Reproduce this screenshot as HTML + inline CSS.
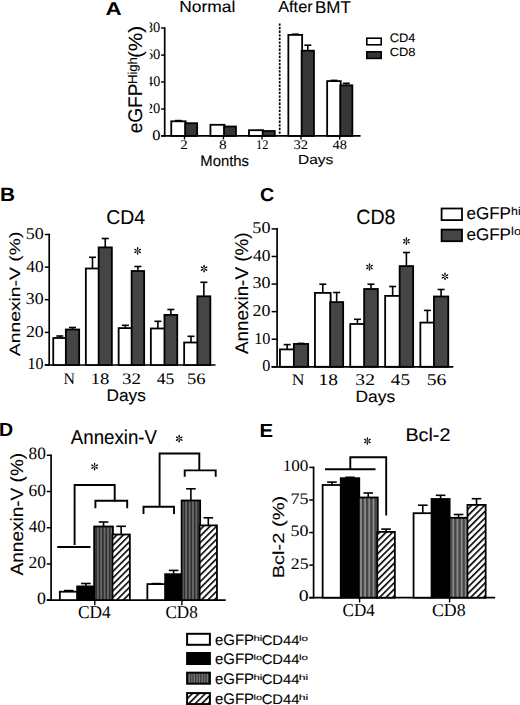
<!DOCTYPE html><html><head><meta charset="utf-8"><style>html,body{margin:0;padding:0;background:#fff;overflow:hidden;}svg{display:block;}text{text-rendering:geometricPrecision;fill:#000;} text.s{stroke:#000;stroke-width:0.1px;}</style></head><body>
<svg width="520" height="705" viewBox="0 0 520 705">
<defs>
<pattern id="hatch" patternUnits="userSpaceOnUse" width="4.6" height="4.6" patternTransform="rotate(45)"><rect width="4.6" height="4.6" fill="#fff"/><rect x="0" y="0" width="1.6" height="4.6" fill="#000"/></pattern>
<pattern id="stripe" patternUnits="userSpaceOnUse" width="3.4" height="10"><rect width="3.4" height="10" fill="#6e6e6e"/><rect x="0" y="0" width="1.8" height="10" fill="#303030"/></pattern>
<pattern id="stripeE" patternUnits="userSpaceOnUse" width="4.2" height="10" x="0.6"><rect width="4.2" height="10" fill="#8c8c8c"/><rect x="0" y="0" width="2.3" height="10" fill="#444"/></pattern>
<pattern id="stripeL" patternUnits="userSpaceOnUse" width="2.6" height="10"><rect width="2.6" height="10" fill="#7a7a7a"/><rect x="0" y="0" width="1.3" height="10" fill="#333"/></pattern>
</defs>
<rect width="520" height="705" fill="#fff"/>
<text x="105.44" y="15.00" font-family='"Liberation Sans", sans-serif' font-size="18.47" font-weight="bold" textLength="16.17" lengthAdjust="spacingAndGlyphs">A</text>
<text x="179.26" y="12.24" font-family='"Liberation Sans", sans-serif' font-size="15.92" class="s" textLength="56.12" lengthAdjust="spacingAndGlyphs">Normal</text>
<text x="278.26" y="12.34" font-family='"Liberation Sans", sans-serif' font-size="15.97" class="s" textLength="34.37" lengthAdjust="spacingAndGlyphs">After</text>
<text x="315.00" y="12.50" font-family='"Liberation Sans", sans-serif' font-size="17.02" class="s" textLength="35.80" lengthAdjust="spacingAndGlyphs">BMT</text>
<line x1="164.70" y1="27.20" x2="164.70" y2="136.70" stroke="#000" stroke-width="1.7" />
<line x1="161.20" y1="28.00" x2="164.70" y2="28.00" stroke="#000" stroke-width="1.5" />
<text x="145.86" y="32.05" font-family='"Liberation Serif", serif' font-size="14.52" textLength="14.49" lengthAdjust="spacingAndGlyphs">80</text>
<line x1="161.20" y1="55.10" x2="164.70" y2="55.10" stroke="#000" stroke-width="1.5" />
<text x="145.78" y="59.15" font-family='"Liberation Serif", serif' font-size="14.52" textLength="14.57" lengthAdjust="spacingAndGlyphs">60</text>
<line x1="161.20" y1="82.00" x2="164.70" y2="82.00" stroke="#000" stroke-width="1.5" />
<text x="146.12" y="86.05" font-family='"Liberation Serif", serif' font-size="14.52" textLength="14.22" lengthAdjust="spacingAndGlyphs">40</text>
<line x1="161.20" y1="109.00" x2="164.70" y2="109.00" stroke="#000" stroke-width="1.5" />
<text x="145.74" y="113.05" font-family='"Liberation Serif", serif' font-size="14.52" textLength="14.60" lengthAdjust="spacingAndGlyphs">20</text>
<line x1="161.20" y1="135.90" x2="164.70" y2="135.90" stroke="#000" stroke-width="1.5" />
<text x="152.18" y="139.95" font-family='"Liberation Serif", serif' font-size="14.52" textLength="8.24" lengthAdjust="spacingAndGlyphs">0</text>
<rect x="120" y="20" width="29.6" height="110" fill="#fff"/>
<text transform="translate(141.70,133.31) rotate(-90)" x="0" y="0" font-family='"Liberation Sans", sans-serif' font-size="19.79" class="s" textLength="49.70" lengthAdjust="spacingAndGlyphs">eGFP</text>
<text transform="translate(136.51,84.08) rotate(-90)" x="0" y="0" font-family='"Liberation Sans", sans-serif' font-size="12.98" class="s" textLength="26.96" lengthAdjust="spacingAndGlyphs">High</text>
<text transform="translate(141.92,58.10) rotate(-90)" x="0" y="0" font-family='"Liberation Sans", sans-serif' font-size="19.20" class="s" textLength="32.30" lengthAdjust="spacingAndGlyphs">(%)</text>
<line x1="161.20" y1="135.90" x2="360.60" y2="135.90" stroke="#000" stroke-width="1.7" />
<line x1="184.50" y1="135.90" x2="184.50" y2="139.40" stroke="#000" stroke-width="1.4" />
<text x="180.32" y="149.40" font-family='"Liberation Serif", serif' font-size="13.28" textLength="7.50" lengthAdjust="spacingAndGlyphs">2</text>
<line x1="223.40" y1="135.90" x2="223.40" y2="139.40" stroke="#000" stroke-width="1.4" />
<text x="219.13" y="149.27" font-family='"Liberation Serif", serif' font-size="13.04" textLength="7.65" lengthAdjust="spacingAndGlyphs">8</text>
<line x1="262.00" y1="135.90" x2="262.00" y2="139.40" stroke="#000" stroke-width="1.4" />
<text x="255.91" y="149.40" font-family='"Liberation Serif", serif' font-size="13.28" textLength="12.48" lengthAdjust="spacingAndGlyphs">12</text>
<line x1="301.00" y1="135.90" x2="301.00" y2="139.40" stroke="#000" stroke-width="1.4" />
<text x="293.51" y="149.27" font-family='"Liberation Serif", serif' font-size="13.09" textLength="14.60" lengthAdjust="spacingAndGlyphs">32</text>
<line x1="339.70" y1="135.90" x2="339.70" y2="139.40" stroke="#000" stroke-width="1.4" />
<text x="332.51" y="149.27" font-family='"Liberation Serif", serif' font-size="13.04" textLength="14.32" lengthAdjust="spacingAndGlyphs">48</text>
<text x="200.27" y="165.55" font-family='"Liberation Sans", sans-serif' font-size="15.10" class="s" textLength="48.74" lengthAdjust="spacingAndGlyphs">Months</text>
<text x="298.12" y="164.36" font-family='"Liberation Sans", sans-serif' font-size="13.18" class="s" textLength="35.23" lengthAdjust="spacingAndGlyphs">Days</text>
<line x1="279.70" y1="23.40" x2="279.70" y2="135.90" stroke="#000" stroke-width="1.7" stroke-dasharray="2.3 1.3"/>
<rect x="171.25" y="121.30" width="14.40" height="14.60" fill="#fff" stroke="#000" stroke-width="1.8"/>
<line x1="178.45" y1="120.90" x2="178.45" y2="120.60" stroke="#000" stroke-width="1.6" />
<line x1="174.95" y1="120.60" x2="181.95" y2="120.60" stroke="#000" stroke-width="1.6" />
<rect x="185.15" y="123.20" width="12.00" height="12.70" fill="#363636" stroke="#000" stroke-width="1.8"/>
<rect x="210.45" y="124.80" width="14.10" height="11.10" fill="#fff" stroke="#000" stroke-width="1.8"/>
<rect x="224.05" y="126.50" width="11.90" height="9.40" fill="#363636" stroke="#000" stroke-width="1.8"/>
<rect x="248.95" y="130.20" width="14.20" height="5.70" fill="#fff" stroke="#000" stroke-width="1.8"/>
<rect x="262.65" y="131.00" width="12.10" height="4.90" fill="#363636" stroke="#000" stroke-width="1.8"/>
<rect x="288.35" y="34.90" width="13.80" height="101.00" fill="#fff" stroke="#000" stroke-width="1.8"/>
<line x1="295.25" y1="34.50" x2="295.25" y2="34.20" stroke="#000" stroke-width="1.6" />
<line x1="291.75" y1="34.20" x2="298.75" y2="34.20" stroke="#000" stroke-width="1.6" />
<rect x="301.65" y="50.70" width="12.30" height="85.20" fill="#363636" stroke="#000" stroke-width="1.8"/>
<line x1="307.80" y1="50.30" x2="307.80" y2="45.20" stroke="#000" stroke-width="1.6" />
<line x1="304.30" y1="45.20" x2="311.30" y2="45.20" stroke="#000" stroke-width="1.6" />
<rect x="327.15" y="81.10" width="13.60" height="54.80" fill="#fff" stroke="#000" stroke-width="1.8"/>
<line x1="333.95" y1="80.70" x2="333.95" y2="80.40" stroke="#000" stroke-width="1.6" />
<line x1="330.45" y1="80.40" x2="337.45" y2="80.40" stroke="#000" stroke-width="1.6" />
<rect x="340.25" y="85.30" width="12.10" height="50.60" fill="#363636" stroke="#000" stroke-width="1.8"/>
<line x1="346.30" y1="84.90" x2="346.30" y2="83.30" stroke="#000" stroke-width="1.6" />
<line x1="342.80" y1="83.30" x2="349.80" y2="83.30" stroke="#000" stroke-width="1.6" />
<rect x="366.8" y="38.2" width="14.4" height="6.6" fill="#fff" stroke="#000" stroke-width="1.6"/>
<rect x="366.8" y="51.8" width="14.4" height="6.6" fill="#363636" stroke="#000" stroke-width="1.6"/>
<text x="389.66" y="42.38" font-family='"Liberation Sans", sans-serif' font-size="12.44" class="s" textLength="25.70" lengthAdjust="spacingAndGlyphs">CD4</text>
<text x="389.65" y="56.48" font-family='"Liberation Sans", sans-serif' font-size="11.87" class="s" textLength="25.90" lengthAdjust="spacingAndGlyphs">CD8</text>
<text x="0.09" y="200.80" font-family='"Liberation Sans", sans-serif' font-size="19.20" font-weight="bold" textLength="15.04" lengthAdjust="spacingAndGlyphs">B</text>
<text x="106.23" y="224.40" font-family='"Liberation Sans", sans-serif' font-size="19.93" class="s" textLength="38.92" lengthAdjust="spacingAndGlyphs">CD4</text>
<line x1="49.20" y1="233.70" x2="49.20" y2="365.80" stroke="#000" stroke-width="1.7" />
<line x1="44.80" y1="234.50" x2="49.20" y2="234.50" stroke="#000" stroke-width="1.5" />
<text x="25.66" y="238.93" font-family='"Liberation Serif", serif' font-size="16.59" textLength="18.01" lengthAdjust="spacingAndGlyphs">50</text>
<line x1="44.80" y1="267.10" x2="49.20" y2="267.10" stroke="#000" stroke-width="1.5" />
<text x="26.35" y="271.53" font-family='"Liberation Serif", serif' font-size="16.59" textLength="17.29" lengthAdjust="spacingAndGlyphs">40</text>
<line x1="44.80" y1="299.70" x2="49.20" y2="299.70" stroke="#000" stroke-width="1.5" />
<text x="25.85" y="304.13" font-family='"Liberation Serif", serif' font-size="16.59" textLength="17.81" lengthAdjust="spacingAndGlyphs">30</text>
<line x1="44.80" y1="332.40" x2="49.20" y2="332.40" stroke="#000" stroke-width="1.5" />
<text x="25.90" y="336.83" font-family='"Liberation Serif", serif' font-size="16.59" textLength="17.77" lengthAdjust="spacingAndGlyphs">20</text>
<line x1="44.80" y1="365.00" x2="49.20" y2="365.00" stroke="#000" stroke-width="1.5" />
<text x="27.60" y="369.43" font-family='"Liberation Serif", serif' font-size="16.59" textLength="16.00" lengthAdjust="spacingAndGlyphs">10</text>
<text transform="translate(20.48,356.25) rotate(-90)" x="0" y="0" font-family='"Liberation Sans", sans-serif' font-size="15.01" class="s" textLength="124.65" lengthAdjust="spacingAndGlyphs">Annexin-V (%)</text>
<line x1="44.80" y1="365.00" x2="215.50" y2="365.00" stroke="#000" stroke-width="1.7" />
<rect x="53.25" y="338.00" width="13.10" height="27.00" fill="#fff" stroke="#000" stroke-width="1.8"/>
<line x1="59.80" y1="337.60" x2="59.80" y2="336.00" stroke="#000" stroke-width="1.6" />
<line x1="56.30" y1="336.00" x2="63.30" y2="336.00" stroke="#000" stroke-width="1.6" />
<rect x="65.85" y="329.50" width="13.30" height="35.50" fill="#454545" stroke="#000" stroke-width="1.8"/>
<line x1="72.50" y1="329.10" x2="72.50" y2="327.50" stroke="#000" stroke-width="1.6" />
<line x1="69.00" y1="327.50" x2="76.00" y2="327.50" stroke="#000" stroke-width="1.6" />
<rect x="85.85" y="268.50" width="13.30" height="96.50" fill="#fff" stroke="#000" stroke-width="1.8"/>
<line x1="92.50" y1="268.10" x2="92.50" y2="257.30" stroke="#000" stroke-width="1.6" />
<line x1="89.00" y1="257.30" x2="96.00" y2="257.30" stroke="#000" stroke-width="1.6" />
<rect x="98.65" y="247.40" width="13.20" height="117.60" fill="#454545" stroke="#000" stroke-width="1.8"/>
<line x1="105.25" y1="247.00" x2="105.25" y2="238.50" stroke="#000" stroke-width="1.6" />
<line x1="101.75" y1="238.50" x2="108.75" y2="238.50" stroke="#000" stroke-width="1.6" />
<rect x="118.65" y="328.10" width="13.50" height="36.90" fill="#fff" stroke="#000" stroke-width="1.8"/>
<line x1="125.40" y1="327.70" x2="125.40" y2="325.30" stroke="#000" stroke-width="1.6" />
<line x1="121.90" y1="325.30" x2="128.90" y2="325.30" stroke="#000" stroke-width="1.6" />
<rect x="131.65" y="271.00" width="12.50" height="94.00" fill="#454545" stroke="#000" stroke-width="1.8"/>
<line x1="137.90" y1="270.60" x2="137.90" y2="266.50" stroke="#000" stroke-width="1.6" />
<line x1="134.40" y1="266.50" x2="141.40" y2="266.50" stroke="#000" stroke-width="1.6" />
<rect x="150.85" y="328.50" width="14.10" height="36.50" fill="#fff" stroke="#000" stroke-width="1.8"/>
<line x1="157.90" y1="328.10" x2="157.90" y2="321.30" stroke="#000" stroke-width="1.6" />
<line x1="154.40" y1="321.30" x2="161.40" y2="321.30" stroke="#000" stroke-width="1.6" />
<rect x="164.45" y="314.90" width="12.80" height="50.10" fill="#454545" stroke="#000" stroke-width="1.8"/>
<line x1="170.85" y1="314.50" x2="170.85" y2="309.50" stroke="#000" stroke-width="1.6" />
<line x1="167.35" y1="309.50" x2="174.35" y2="309.50" stroke="#000" stroke-width="1.6" />
<rect x="184.15" y="342.50" width="13.70" height="22.50" fill="#fff" stroke="#000" stroke-width="1.8"/>
<line x1="191.00" y1="342.10" x2="191.00" y2="336.30" stroke="#000" stroke-width="1.6" />
<line x1="187.50" y1="336.30" x2="194.50" y2="336.30" stroke="#000" stroke-width="1.6" />
<rect x="197.35" y="296.30" width="13.00" height="68.70" fill="#454545" stroke="#000" stroke-width="1.8"/>
<line x1="203.85" y1="295.90" x2="203.85" y2="282.30" stroke="#000" stroke-width="1.6" />
<line x1="200.35" y1="282.30" x2="207.35" y2="282.30" stroke="#000" stroke-width="1.6" />
<text x="63.53" y="383.80" font-family='"Liberation Serif", serif' font-size="16.18" textLength="11.43" lengthAdjust="spacingAndGlyphs">N</text>
<text x="90.67" y="384.04" font-family='"Liberation Serif", serif' font-size="16.00" textLength="18.63" lengthAdjust="spacingAndGlyphs">18</text>
<text x="122.10" y="384.04" font-family='"Liberation Serif", serif' font-size="16.06" textLength="18.94" lengthAdjust="spacingAndGlyphs">32</text>
<text x="156.65" y="384.04" font-family='"Liberation Serif", serif' font-size="16.18" textLength="17.66" lengthAdjust="spacingAndGlyphs">45</text>
<text x="186.93" y="384.04" font-family='"Liberation Serif", serif' font-size="16.06" textLength="18.63" lengthAdjust="spacingAndGlyphs">56</text>
<text x="106.48" y="401.20" font-family='"Liberation Sans", sans-serif' font-size="16.87" class="s" textLength="39.34" lengthAdjust="spacingAndGlyphs">Days</text>
<g fill="#000"><ellipse cx="137.60" cy="248.36" rx="1.31" ry="0.73" transform="rotate(-90,137.60,248.36)"/><line x1="137.60" y1="250.90" x2="137.60" y2="248.36" stroke="#000" stroke-width="0.46"/><ellipse cx="135.40" cy="249.63" rx="1.31" ry="0.73" transform="rotate(-150,135.40,249.63)"/><line x1="137.60" y1="250.90" x2="135.40" y2="249.63" stroke="#000" stroke-width="0.46"/><ellipse cx="135.40" cy="252.17" rx="1.31" ry="0.73" transform="rotate(-210,135.40,252.17)"/><line x1="137.60" y1="250.90" x2="135.40" y2="252.17" stroke="#000" stroke-width="0.46"/><ellipse cx="137.60" cy="253.44" rx="1.31" ry="0.73" transform="rotate(-270,137.60,253.44)"/><line x1="137.60" y1="250.90" x2="137.60" y2="253.44" stroke="#000" stroke-width="0.46"/><ellipse cx="139.80" cy="252.17" rx="1.31" ry="0.73" transform="rotate(-330,139.80,252.17)"/><line x1="137.60" y1="250.90" x2="139.80" y2="252.17" stroke="#000" stroke-width="0.46"/><ellipse cx="139.80" cy="249.63" rx="1.31" ry="0.73" transform="rotate(-390,139.80,249.63)"/><line x1="137.60" y1="250.90" x2="139.80" y2="249.63" stroke="#000" stroke-width="0.46"/></g>
<g fill="#000"><ellipse cx="204.10" cy="266.16" rx="1.31" ry="0.73" transform="rotate(-90,204.10,266.16)"/><line x1="204.10" y1="268.70" x2="204.10" y2="266.16" stroke="#000" stroke-width="0.46"/><ellipse cx="201.90" cy="267.43" rx="1.31" ry="0.73" transform="rotate(-150,201.90,267.43)"/><line x1="204.10" y1="268.70" x2="201.90" y2="267.43" stroke="#000" stroke-width="0.46"/><ellipse cx="201.90" cy="269.97" rx="1.31" ry="0.73" transform="rotate(-210,201.90,269.97)"/><line x1="204.10" y1="268.70" x2="201.90" y2="269.97" stroke="#000" stroke-width="0.46"/><ellipse cx="204.10" cy="271.24" rx="1.31" ry="0.73" transform="rotate(-270,204.10,271.24)"/><line x1="204.10" y1="268.70" x2="204.10" y2="271.24" stroke="#000" stroke-width="0.46"/><ellipse cx="206.30" cy="269.97" rx="1.31" ry="0.73" transform="rotate(-330,206.30,269.97)"/><line x1="204.10" y1="268.70" x2="206.30" y2="269.97" stroke="#000" stroke-width="0.46"/><ellipse cx="206.30" cy="267.43" rx="1.31" ry="0.73" transform="rotate(-390,206.30,267.43)"/><line x1="204.10" y1="268.70" x2="206.30" y2="267.43" stroke="#000" stroke-width="0.46"/></g>
<text x="260.11" y="200.81" font-family='"Liberation Sans", sans-serif' font-size="18.66" font-weight="bold" textLength="14.22" lengthAdjust="spacingAndGlyphs">C</text>
<text x="356.22" y="224.39" font-family='"Liberation Sans", sans-serif' font-size="20.64" class="s" textLength="39.22" lengthAdjust="spacingAndGlyphs">CD8</text>
<line x1="277.10" y1="228.10" x2="277.10" y2="367.60" stroke="#000" stroke-width="1.7" />
<line x1="271.60" y1="228.90" x2="277.10" y2="228.90" stroke="#000" stroke-width="1.5" />
<text x="252.36" y="233.33" font-family='"Liberation Serif", serif' font-size="16.59" textLength="18.12" lengthAdjust="spacingAndGlyphs">50</text>
<line x1="271.60" y1="256.48" x2="277.10" y2="256.48" stroke="#000" stroke-width="1.5" />
<text x="253.05" y="260.91" font-family='"Liberation Serif", serif' font-size="16.59" textLength="17.40" lengthAdjust="spacingAndGlyphs">40</text>
<line x1="271.60" y1="284.06" x2="277.10" y2="284.06" stroke="#000" stroke-width="1.5" />
<text x="252.55" y="288.49" font-family='"Liberation Serif", serif' font-size="16.59" textLength="17.92" lengthAdjust="spacingAndGlyphs">30</text>
<line x1="271.60" y1="311.64" x2="277.10" y2="311.64" stroke="#000" stroke-width="1.5" />
<text x="252.60" y="316.07" font-family='"Liberation Serif", serif' font-size="16.59" textLength="17.87" lengthAdjust="spacingAndGlyphs">20</text>
<line x1="271.60" y1="339.22" x2="277.10" y2="339.22" stroke="#000" stroke-width="1.5" />
<text x="254.18" y="343.65" font-family='"Liberation Serif", serif' font-size="16.59" textLength="16.23" lengthAdjust="spacingAndGlyphs">10</text>
<line x1="271.60" y1="366.80" x2="277.10" y2="366.80" stroke="#000" stroke-width="1.5" />
<text x="262.29" y="371.23" font-family='"Liberation Serif", serif' font-size="16.59" textLength="8.12" lengthAdjust="spacingAndGlyphs">0</text>
<text transform="translate(248.49,354.05) rotate(-90)" x="0" y="0" font-family='"Liberation Sans", sans-serif' font-size="18.34" class="s" textLength="121.62" lengthAdjust="spacingAndGlyphs">Annexin-V (%)</text>
<line x1="271.60" y1="366.80" x2="453.30" y2="366.80" stroke="#000" stroke-width="1.7" />
<rect x="279.95" y="349.40" width="14.40" height="17.40" fill="#fff" stroke="#000" stroke-width="1.8"/>
<line x1="287.15" y1="349.00" x2="287.15" y2="344.60" stroke="#000" stroke-width="1.6" />
<line x1="283.65" y1="344.60" x2="290.65" y2="344.60" stroke="#000" stroke-width="1.6" />
<rect x="293.85" y="343.90" width="14.30" height="22.90" fill="#454545" stroke="#000" stroke-width="1.8"/>
<line x1="301.00" y1="343.50" x2="301.00" y2="343.40" stroke="#000" stroke-width="1.6" />
<line x1="297.50" y1="343.40" x2="304.50" y2="343.40" stroke="#000" stroke-width="1.6" />
<rect x="314.95" y="292.90" width="15.70" height="73.90" fill="#fff" stroke="#000" stroke-width="1.8"/>
<line x1="322.80" y1="292.50" x2="322.80" y2="284.20" stroke="#000" stroke-width="1.6" />
<line x1="319.30" y1="284.20" x2="326.30" y2="284.20" stroke="#000" stroke-width="1.6" />
<rect x="330.15" y="302.10" width="13.00" height="64.70" fill="#454545" stroke="#000" stroke-width="1.8"/>
<line x1="336.65" y1="301.70" x2="336.65" y2="292.50" stroke="#000" stroke-width="1.6" />
<line x1="333.15" y1="292.50" x2="340.15" y2="292.50" stroke="#000" stroke-width="1.6" />
<rect x="350.25" y="324.00" width="14.40" height="42.80" fill="#fff" stroke="#000" stroke-width="1.8"/>
<line x1="357.45" y1="323.60" x2="357.45" y2="319.30" stroke="#000" stroke-width="1.6" />
<line x1="353.95" y1="319.30" x2="360.95" y2="319.30" stroke="#000" stroke-width="1.6" />
<rect x="364.15" y="289.00" width="13.70" height="77.80" fill="#454545" stroke="#000" stroke-width="1.8"/>
<line x1="371.00" y1="288.60" x2="371.00" y2="284.20" stroke="#000" stroke-width="1.6" />
<line x1="367.50" y1="284.20" x2="374.50" y2="284.20" stroke="#000" stroke-width="1.6" />
<rect x="385.15" y="295.90" width="15.00" height="70.90" fill="#fff" stroke="#000" stroke-width="1.8"/>
<line x1="392.65" y1="295.50" x2="392.65" y2="286.50" stroke="#000" stroke-width="1.6" />
<line x1="389.15" y1="286.50" x2="396.15" y2="286.50" stroke="#000" stroke-width="1.6" />
<rect x="399.65" y="266.10" width="13.50" height="100.70" fill="#454545" stroke="#000" stroke-width="1.8"/>
<line x1="406.40" y1="265.70" x2="406.40" y2="252.50" stroke="#000" stroke-width="1.6" />
<line x1="402.90" y1="252.50" x2="409.90" y2="252.50" stroke="#000" stroke-width="1.6" />
<rect x="420.35" y="322.60" width="14.10" height="44.20" fill="#fff" stroke="#000" stroke-width="1.8"/>
<line x1="427.40" y1="322.20" x2="427.40" y2="310.40" stroke="#000" stroke-width="1.6" />
<line x1="423.90" y1="310.40" x2="430.90" y2="310.40" stroke="#000" stroke-width="1.6" />
<rect x="433.95" y="296.50" width="14.30" height="70.30" fill="#454545" stroke="#000" stroke-width="1.8"/>
<line x1="441.10" y1="296.10" x2="441.10" y2="289.50" stroke="#000" stroke-width="1.6" />
<line x1="437.60" y1="289.50" x2="444.60" y2="289.50" stroke="#000" stroke-width="1.6" />
<text x="291.67" y="385.00" font-family='"Liberation Serif", serif' font-size="16.03" textLength="12.72" lengthAdjust="spacingAndGlyphs">N</text>
<text x="318.60" y="385.34" font-family='"Liberation Serif", serif' font-size="16.30" textLength="19.43" lengthAdjust="spacingAndGlyphs">18</text>
<text x="355.37" y="385.34" font-family='"Liberation Serif", serif' font-size="16.36" textLength="19.61" lengthAdjust="spacingAndGlyphs">32</text>
<text x="390.82" y="385.34" font-family='"Liberation Serif", serif' font-size="16.48" textLength="19.15" lengthAdjust="spacingAndGlyphs">45</text>
<text x="426.67" y="385.34" font-family='"Liberation Serif", serif' font-size="16.36" textLength="19.73" lengthAdjust="spacingAndGlyphs">56</text>
<text x="355.46" y="402.12" font-family='"Liberation Sans", sans-serif' font-size="16.31" class="s" textLength="39.66" lengthAdjust="spacingAndGlyphs">Days</text>
<g fill="#000"><ellipse cx="369.50" cy="264.46" rx="1.31" ry="0.73" transform="rotate(-90,369.50,264.46)"/><line x1="369.50" y1="267.00" x2="369.50" y2="264.46" stroke="#000" stroke-width="0.46"/><ellipse cx="367.30" cy="265.73" rx="1.31" ry="0.73" transform="rotate(-150,367.30,265.73)"/><line x1="369.50" y1="267.00" x2="367.30" y2="265.73" stroke="#000" stroke-width="0.46"/><ellipse cx="367.30" cy="268.27" rx="1.31" ry="0.73" transform="rotate(-210,367.30,268.27)"/><line x1="369.50" y1="267.00" x2="367.30" y2="268.27" stroke="#000" stroke-width="0.46"/><ellipse cx="369.50" cy="269.54" rx="1.31" ry="0.73" transform="rotate(-270,369.50,269.54)"/><line x1="369.50" y1="267.00" x2="369.50" y2="269.54" stroke="#000" stroke-width="0.46"/><ellipse cx="371.70" cy="268.27" rx="1.31" ry="0.73" transform="rotate(-330,371.70,268.27)"/><line x1="369.50" y1="267.00" x2="371.70" y2="268.27" stroke="#000" stroke-width="0.46"/><ellipse cx="371.70" cy="265.73" rx="1.31" ry="0.73" transform="rotate(-390,371.70,265.73)"/><line x1="369.50" y1="267.00" x2="371.70" y2="265.73" stroke="#000" stroke-width="0.46"/></g>
<g fill="#000"><ellipse cx="406.40" cy="238.66" rx="1.31" ry="0.73" transform="rotate(-90,406.40,238.66)"/><line x1="406.40" y1="241.20" x2="406.40" y2="238.66" stroke="#000" stroke-width="0.46"/><ellipse cx="404.20" cy="239.93" rx="1.31" ry="0.73" transform="rotate(-150,404.20,239.93)"/><line x1="406.40" y1="241.20" x2="404.20" y2="239.93" stroke="#000" stroke-width="0.46"/><ellipse cx="404.20" cy="242.47" rx="1.31" ry="0.73" transform="rotate(-210,404.20,242.47)"/><line x1="406.40" y1="241.20" x2="404.20" y2="242.47" stroke="#000" stroke-width="0.46"/><ellipse cx="406.40" cy="243.74" rx="1.31" ry="0.73" transform="rotate(-270,406.40,243.74)"/><line x1="406.40" y1="241.20" x2="406.40" y2="243.74" stroke="#000" stroke-width="0.46"/><ellipse cx="408.60" cy="242.47" rx="1.31" ry="0.73" transform="rotate(-330,408.60,242.47)"/><line x1="406.40" y1="241.20" x2="408.60" y2="242.47" stroke="#000" stroke-width="0.46"/><ellipse cx="408.60" cy="239.93" rx="1.31" ry="0.73" transform="rotate(-390,408.60,239.93)"/><line x1="406.40" y1="241.20" x2="408.60" y2="239.93" stroke="#000" stroke-width="0.46"/></g>
<g fill="#000"><ellipse cx="445.00" cy="273.86" rx="1.31" ry="0.73" transform="rotate(-90,445.00,273.86)"/><line x1="445.00" y1="276.40" x2="445.00" y2="273.86" stroke="#000" stroke-width="0.46"/><ellipse cx="442.80" cy="275.13" rx="1.31" ry="0.73" transform="rotate(-150,442.80,275.13)"/><line x1="445.00" y1="276.40" x2="442.80" y2="275.13" stroke="#000" stroke-width="0.46"/><ellipse cx="442.80" cy="277.67" rx="1.31" ry="0.73" transform="rotate(-210,442.80,277.67)"/><line x1="445.00" y1="276.40" x2="442.80" y2="277.67" stroke="#000" stroke-width="0.46"/><ellipse cx="445.00" cy="278.94" rx="1.31" ry="0.73" transform="rotate(-270,445.00,278.94)"/><line x1="445.00" y1="276.40" x2="445.00" y2="278.94" stroke="#000" stroke-width="0.46"/><ellipse cx="447.20" cy="277.67" rx="1.31" ry="0.73" transform="rotate(-330,447.20,277.67)"/><line x1="445.00" y1="276.40" x2="447.20" y2="277.67" stroke="#000" stroke-width="0.46"/><ellipse cx="447.20" cy="275.13" rx="1.31" ry="0.73" transform="rotate(-390,447.20,275.13)"/><line x1="445.00" y1="276.40" x2="447.20" y2="275.13" stroke="#000" stroke-width="0.46"/></g>
<rect x="441.6" y="208.5" width="20.4" height="11.6" fill="#fff" stroke="#000" stroke-width="1.8"/>
<rect x="441.6" y="229.6" width="20.4" height="11.6" fill="#454545" stroke="#000" stroke-width="1.8"/>
<text x="466.48" y="219.33" font-family='"Liberation Sans", sans-serif' font-size="17.10" class="s" textLength="44.51" lengthAdjust="spacingAndGlyphs">eGFP</text>
<text x="466.48" y="239.83" font-family='"Liberation Sans", sans-serif' font-size="16.68" class="s" textLength="44.51" lengthAdjust="spacingAndGlyphs">eGFP</text>
<text x="511.14" y="214.70" font-family='"Liberation Sans", sans-serif' font-size="11.45" class="s" textLength="9.61" lengthAdjust="spacingAndGlyphs">hi</text>
<text x="511.14" y="234.69" font-family='"Liberation Sans", sans-serif' font-size="11.29" class="s" textLength="9.87" lengthAdjust="spacingAndGlyphs">lo</text>
<text x="-1.02" y="435.80" font-family='"Liberation Sans", sans-serif' font-size="19.05" font-weight="bold" textLength="14.15" lengthAdjust="spacingAndGlyphs">D</text>
<text x="70.75" y="444.00" font-family='"Liberation Sans", sans-serif' font-size="20.14" class="s" textLength="86.32" lengthAdjust="spacingAndGlyphs">Annexin-V</text>
<line x1="51.10" y1="454.50" x2="51.10" y2="600.98" stroke="#000" stroke-width="1.7" />
<line x1="46.80" y1="455.30" x2="51.10" y2="455.30" stroke="#000" stroke-width="1.5" />
<text x="28.55" y="459.43" font-family='"Liberation Serif", serif' font-size="17.19" textLength="17.30" lengthAdjust="spacingAndGlyphs">80</text>
<line x1="46.80" y1="491.52" x2="51.10" y2="491.52" stroke="#000" stroke-width="1.5" />
<text x="28.46" y="495.65" font-family='"Liberation Serif", serif' font-size="17.19" textLength="17.39" lengthAdjust="spacingAndGlyphs">60</text>
<line x1="46.80" y1="527.74" x2="51.10" y2="527.74" stroke="#000" stroke-width="1.5" />
<text x="28.86" y="531.87" font-family='"Liberation Serif", serif' font-size="17.19" textLength="16.98" lengthAdjust="spacingAndGlyphs">40</text>
<line x1="46.80" y1="563.96" x2="51.10" y2="563.96" stroke="#000" stroke-width="1.5" />
<text x="28.42" y="568.09" font-family='"Liberation Serif", serif' font-size="17.19" textLength="17.44" lengthAdjust="spacingAndGlyphs">20</text>
<line x1="46.80" y1="600.18" x2="51.10" y2="600.18" stroke="#000" stroke-width="1.5" />
<text x="36.93" y="604.31" font-family='"Liberation Serif", serif' font-size="17.19" textLength="8.94" lengthAdjust="spacingAndGlyphs">0</text>
<text transform="translate(23.11,575.45) rotate(-90)" x="0" y="0" font-family='"Liberation Sans", sans-serif' font-size="17.80" class="s" textLength="122.63" lengthAdjust="spacingAndGlyphs">Annexin-V (%)</text>
<line x1="46.80" y1="600.10" x2="225.70" y2="600.10" stroke="#000" stroke-width="1.7" />
<rect x="59.85" y="591.70" width="17.80" height="8.40" fill="#fff" stroke="#000" stroke-width="1.8"/>
<line x1="68.75" y1="591.30" x2="68.75" y2="590.60" stroke="#000" stroke-width="1.6" />
<line x1="63.95" y1="590.60" x2="73.55" y2="590.60" stroke="#000" stroke-width="1.6" />
<rect x="77.15" y="586.40" width="17.50" height="13.70" fill="#000" stroke="#000" stroke-width="1.8"/>
<line x1="85.90" y1="586.00" x2="85.90" y2="583.50" stroke="#000" stroke-width="1.6" />
<line x1="81.10" y1="583.50" x2="90.70" y2="583.50" stroke="#000" stroke-width="1.6" />
<rect x="94.15" y="526.50" width="18.80" height="73.60" fill="url(#stripe)" stroke="#000" stroke-width="1.8"/>
<line x1="103.55" y1="526.10" x2="103.55" y2="522.00" stroke="#000" stroke-width="1.6" />
<line x1="98.75" y1="522.00" x2="108.35" y2="522.00" stroke="#000" stroke-width="1.6" />
<rect x="112.45" y="534.50" width="17.40" height="65.60" fill="url(#hatch)" stroke="#000" stroke-width="1.8"/>
<line x1="121.15" y1="534.10" x2="121.15" y2="526.30" stroke="#000" stroke-width="1.6" />
<line x1="116.35" y1="526.30" x2="125.95" y2="526.30" stroke="#000" stroke-width="1.6" />
<rect x="147.35" y="584.10" width="18.30" height="16.00" fill="#fff" stroke="#000" stroke-width="1.8"/>
<line x1="156.50" y1="583.70" x2="156.50" y2="583.60" stroke="#000" stroke-width="1.6" />
<line x1="151.70" y1="583.60" x2="161.30" y2="583.60" stroke="#000" stroke-width="1.6" />
<rect x="165.15" y="574.20" width="17.00" height="25.90" fill="#000" stroke="#000" stroke-width="1.8"/>
<line x1="173.65" y1="573.80" x2="173.65" y2="570.40" stroke="#000" stroke-width="1.6" />
<line x1="168.85" y1="570.40" x2="178.45" y2="570.40" stroke="#000" stroke-width="1.6" />
<rect x="181.65" y="500.50" width="18.50" height="99.60" fill="url(#stripe)" stroke="#000" stroke-width="1.8"/>
<line x1="190.90" y1="500.10" x2="190.90" y2="488.80" stroke="#000" stroke-width="1.6" />
<line x1="186.10" y1="488.80" x2="195.70" y2="488.80" stroke="#000" stroke-width="1.6" />
<rect x="199.65" y="525.40" width="17.30" height="74.70" fill="url(#hatch)" stroke="#000" stroke-width="1.8"/>
<line x1="208.30" y1="525.00" x2="208.30" y2="517.80" stroke="#000" stroke-width="1.6" />
<line x1="203.50" y1="517.80" x2="213.10" y2="517.80" stroke="#000" stroke-width="1.6" />
<line x1="94.80" y1="600.10" x2="94.80" y2="605.20" stroke="#000" stroke-width="1.4" />
<line x1="181.90" y1="600.10" x2="181.90" y2="605.20" stroke="#000" stroke-width="1.4" />
<text x="77.91" y="617.72" font-family='"Liberation Serif", serif' font-size="17.99" textLength="32.74" lengthAdjust="spacingAndGlyphs">CD4</text>
<text x="165.42" y="617.72" font-family='"Liberation Serif", serif' font-size="17.93" textLength="32.31" lengthAdjust="spacingAndGlyphs">CD8</text>
<line x1="57.20" y1="547.00" x2="90.50" y2="547.00" stroke="#000" stroke-width="1.9" />
<polyline points="74.6,544 74.6,485 114.7,485 114.7,500.7" fill="none" stroke="#000" stroke-width="1.9" stroke-linejoin="miter" stroke-linecap="square"/>
<polyline points="95.4,507.4 95.4,500.7 127.2,500.7 127.2,507.4" fill="none" stroke="#000" stroke-width="1.9" stroke-linejoin="miter" stroke-linecap="square"/>
<g fill="#000"><ellipse cx="94.60" cy="464.06" rx="1.31" ry="0.73" transform="rotate(-90,94.60,464.06)"/><line x1="94.60" y1="466.60" x2="94.60" y2="464.06" stroke="#000" stroke-width="0.46"/><ellipse cx="92.40" cy="465.33" rx="1.31" ry="0.73" transform="rotate(-150,92.40,465.33)"/><line x1="94.60" y1="466.60" x2="92.40" y2="465.33" stroke="#000" stroke-width="0.46"/><ellipse cx="92.40" cy="467.87" rx="1.31" ry="0.73" transform="rotate(-210,92.40,467.87)"/><line x1="94.60" y1="466.60" x2="92.40" y2="467.87" stroke="#000" stroke-width="0.46"/><ellipse cx="94.60" cy="469.14" rx="1.31" ry="0.73" transform="rotate(-270,94.60,469.14)"/><line x1="94.60" y1="466.60" x2="94.60" y2="469.14" stroke="#000" stroke-width="0.46"/><ellipse cx="96.80" cy="467.87" rx="1.31" ry="0.73" transform="rotate(-330,96.80,467.87)"/><line x1="94.60" y1="466.60" x2="96.80" y2="467.87" stroke="#000" stroke-width="0.46"/><ellipse cx="96.80" cy="465.33" rx="1.31" ry="0.73" transform="rotate(-390,96.80,465.33)"/><line x1="94.60" y1="466.60" x2="96.80" y2="465.33" stroke="#000" stroke-width="0.46"/></g>
<polyline points="143.5,513 143.5,506.8 174,506.8 174,513" fill="none" stroke="#000" stroke-width="1.9" stroke-linejoin="miter" stroke-linecap="square"/>
<polyline points="159.6,506 159.6,453.5 199.3,453.5 199.3,469.9" fill="none" stroke="#000" stroke-width="1.9" stroke-linejoin="miter" stroke-linecap="square"/>
<polyline points="184.7,475.8 184.7,470.4 215.7,470.4 215.7,475.8" fill="none" stroke="#000" stroke-width="1.9" stroke-linejoin="miter" stroke-linecap="square"/>
<g fill="#000"><ellipse cx="179.20" cy="436.16" rx="1.31" ry="0.73" transform="rotate(-90,179.20,436.16)"/><line x1="179.20" y1="438.70" x2="179.20" y2="436.16" stroke="#000" stroke-width="0.46"/><ellipse cx="177.00" cy="437.43" rx="1.31" ry="0.73" transform="rotate(-150,177.00,437.43)"/><line x1="179.20" y1="438.70" x2="177.00" y2="437.43" stroke="#000" stroke-width="0.46"/><ellipse cx="177.00" cy="439.97" rx="1.31" ry="0.73" transform="rotate(-210,177.00,439.97)"/><line x1="179.20" y1="438.70" x2="177.00" y2="439.97" stroke="#000" stroke-width="0.46"/><ellipse cx="179.20" cy="441.24" rx="1.31" ry="0.73" transform="rotate(-270,179.20,441.24)"/><line x1="179.20" y1="438.70" x2="179.20" y2="441.24" stroke="#000" stroke-width="0.46"/><ellipse cx="181.40" cy="439.97" rx="1.31" ry="0.73" transform="rotate(-330,181.40,439.97)"/><line x1="179.20" y1="438.70" x2="181.40" y2="439.97" stroke="#000" stroke-width="0.46"/><ellipse cx="181.40" cy="437.43" rx="1.31" ry="0.73" transform="rotate(-390,181.40,437.43)"/><line x1="179.20" y1="438.70" x2="181.40" y2="437.43" stroke="#000" stroke-width="0.46"/></g>
<text x="259.43" y="436.50" font-family='"Liberation Sans", sans-serif' font-size="18.91" font-weight="bold" textLength="13.58" lengthAdjust="spacingAndGlyphs">E</text>
<text x="405.47" y="441.02" font-family='"Liberation Sans", sans-serif' font-size="18.37" class="s" textLength="44.93" lengthAdjust="spacingAndGlyphs">Bcl-2</text>
<g fill="#000"><ellipse cx="367.40" cy="438.46" rx="1.31" ry="0.73" transform="rotate(-90,367.40,438.46)"/><line x1="367.40" y1="441.00" x2="367.40" y2="438.46" stroke="#000" stroke-width="0.46"/><ellipse cx="365.20" cy="439.73" rx="1.31" ry="0.73" transform="rotate(-150,365.20,439.73)"/><line x1="367.40" y1="441.00" x2="365.20" y2="439.73" stroke="#000" stroke-width="0.46"/><ellipse cx="365.20" cy="442.27" rx="1.31" ry="0.73" transform="rotate(-210,365.20,442.27)"/><line x1="367.40" y1="441.00" x2="365.20" y2="442.27" stroke="#000" stroke-width="0.46"/><ellipse cx="367.40" cy="443.54" rx="1.31" ry="0.73" transform="rotate(-270,367.40,443.54)"/><line x1="367.40" y1="441.00" x2="367.40" y2="443.54" stroke="#000" stroke-width="0.46"/><ellipse cx="369.60" cy="442.27" rx="1.31" ry="0.73" transform="rotate(-330,369.60,442.27)"/><line x1="367.40" y1="441.00" x2="369.60" y2="442.27" stroke="#000" stroke-width="0.46"/><ellipse cx="369.60" cy="439.73" rx="1.31" ry="0.73" transform="rotate(-390,369.60,439.73)"/><line x1="367.40" y1="441.00" x2="369.60" y2="439.73" stroke="#000" stroke-width="0.46"/></g>
<line x1="313.60" y1="466.60" x2="313.60" y2="598.52" stroke="#000" stroke-width="1.7" />
<line x1="309.30" y1="467.40" x2="313.60" y2="467.40" stroke="#000" stroke-width="1.5" />
<text x="282.70" y="471.04" font-family='"Liberation Serif", serif' font-size="16.00" textLength="25.75" lengthAdjust="spacingAndGlyphs">100</text>
<line x1="309.30" y1="499.98" x2="313.60" y2="499.98" stroke="#000" stroke-width="1.5" />
<text x="290.42" y="503.62" font-family='"Liberation Serif", serif' font-size="16.24" textLength="18.10" lengthAdjust="spacingAndGlyphs">75</text>
<line x1="309.30" y1="532.56" x2="313.60" y2="532.56" stroke="#000" stroke-width="1.5" />
<text x="290.57" y="536.20" font-family='"Liberation Serif", serif' font-size="16.00" textLength="17.90" lengthAdjust="spacingAndGlyphs">50</text>
<line x1="309.30" y1="565.14" x2="313.60" y2="565.14" stroke="#000" stroke-width="1.5" />
<text x="290.80" y="568.78" font-family='"Liberation Serif", serif' font-size="16.06" textLength="17.70" lengthAdjust="spacingAndGlyphs">25</text>
<line x1="309.30" y1="597.72" x2="313.60" y2="597.72" stroke="#000" stroke-width="1.5" />
<text x="298.66" y="601.36" font-family='"Liberation Serif", serif' font-size="16.00" textLength="9.88" lengthAdjust="spacingAndGlyphs">0</text>
<text transform="translate(283.66,578.36) rotate(-90)" x="0" y="0" font-family='"Liberation Sans", sans-serif' font-size="16.09" class="s" textLength="82.64" lengthAdjust="spacingAndGlyphs">Bcl-2 (%)</text>
<line x1="309.30" y1="597.70" x2="495.20" y2="597.70" stroke="#000" stroke-width="1.7" />
<rect x="322.65" y="485.00" width="18.60" height="112.70" fill="#fff" stroke="#000" stroke-width="1.8"/>
<line x1="331.95" y1="484.60" x2="331.95" y2="482.10" stroke="#000" stroke-width="1.6" />
<line x1="327.15" y1="482.10" x2="336.75" y2="482.10" stroke="#000" stroke-width="1.6" />
<rect x="340.75" y="478.20" width="18.50" height="119.50" fill="#000" stroke="#000" stroke-width="1.8"/>
<line x1="350.00" y1="477.80" x2="350.00" y2="477.30" stroke="#000" stroke-width="1.6" />
<line x1="345.20" y1="477.30" x2="354.80" y2="477.30" stroke="#000" stroke-width="1.6" />
<rect x="358.75" y="497.50" width="19.00" height="100.20" fill="url(#stripeE)" stroke="#000" stroke-width="1.8"/>
<line x1="368.25" y1="497.10" x2="368.25" y2="493.00" stroke="#000" stroke-width="1.6" />
<line x1="363.45" y1="493.00" x2="373.05" y2="493.00" stroke="#000" stroke-width="1.6" />
<rect x="377.25" y="531.90" width="17.60" height="65.80" fill="url(#hatch)" stroke="#000" stroke-width="1.8"/>
<line x1="386.05" y1="531.50" x2="386.05" y2="529.10" stroke="#000" stroke-width="1.6" />
<line x1="381.25" y1="529.10" x2="390.85" y2="529.10" stroke="#000" stroke-width="1.6" />
<rect x="413.55" y="513.20" width="18.50" height="84.50" fill="#fff" stroke="#000" stroke-width="1.8"/>
<line x1="422.80" y1="512.80" x2="422.80" y2="505.20" stroke="#000" stroke-width="1.6" />
<line x1="418.00" y1="505.20" x2="427.60" y2="505.20" stroke="#000" stroke-width="1.6" />
<rect x="431.55" y="499.00" width="18.10" height="98.70" fill="#000" stroke="#000" stroke-width="1.8"/>
<line x1="440.60" y1="498.60" x2="440.60" y2="495.30" stroke="#000" stroke-width="1.6" />
<line x1="435.80" y1="495.30" x2="445.40" y2="495.30" stroke="#000" stroke-width="1.6" />
<rect x="449.15" y="517.80" width="18.80" height="79.90" fill="url(#stripeE)" stroke="#000" stroke-width="1.8"/>
<line x1="458.55" y1="517.40" x2="458.55" y2="514.50" stroke="#000" stroke-width="1.6" />
<line x1="453.75" y1="514.50" x2="463.35" y2="514.50" stroke="#000" stroke-width="1.6" />
<rect x="467.45" y="504.90" width="18.20" height="92.80" fill="url(#hatch)" stroke="#000" stroke-width="1.8"/>
<line x1="476.55" y1="504.50" x2="476.55" y2="498.70" stroke="#000" stroke-width="1.6" />
<line x1="471.75" y1="498.70" x2="481.35" y2="498.70" stroke="#000" stroke-width="1.6" />
<line x1="359.60" y1="597.70" x2="359.60" y2="602.50" stroke="#000" stroke-width="1.4" />
<line x1="449.60" y1="597.70" x2="449.60" y2="602.50" stroke="#000" stroke-width="1.4" />
<text x="342.62" y="616.12" font-family='"Liberation Serif", serif' font-size="17.99" textLength="32.22" lengthAdjust="spacingAndGlyphs">CD4</text>
<text x="431.99" y="615.92" font-family='"Liberation Serif", serif' font-size="17.93" textLength="33.67" lengthAdjust="spacingAndGlyphs">CD8</text>
<line x1="325.00" y1="469.30" x2="375.50" y2="469.30" stroke="#000" stroke-width="1.9" />
<polyline points="350.3,468.8 350.3,457.3 386.2,457.3 386.2,514.6" fill="none" stroke="#000" stroke-width="1.9" stroke-linejoin="miter" stroke-linecap="square"/>
<rect x="187.1" y="633.8" width="22.8" height="11" fill="#fff" stroke="#000" stroke-width="2"/>
<text x="215.07" y="644.75" font-family='"Liberation Sans", sans-serif' font-size="15.27" class="s" textLength="39.01" lengthAdjust="spacingAndGlyphs">eGFP</text>
<text x="253.50" y="640.70" font-family='"Liberation Sans", sans-serif' font-size="8.00" class="s" textLength="8.88" lengthAdjust="spacingAndGlyphs">hi</text>
<text x="261.66" y="644.76" font-family='"Liberation Sans", sans-serif' font-size="13.85" class="s" textLength="37.77" lengthAdjust="spacingAndGlyphs">CD44</text>
<text x="298.91" y="640.62" font-family='"Liberation Sans", sans-serif' font-size="7.89" class="s" textLength="9.06" lengthAdjust="spacingAndGlyphs">lo</text>
<rect x="187.1" y="653.0" width="22.8" height="11" fill="#000" stroke="#000" stroke-width="2"/>
<text x="215.07" y="663.95" font-family='"Liberation Sans", sans-serif' font-size="15.27" class="s" textLength="39.01" lengthAdjust="spacingAndGlyphs">eGFP</text>
<text x="253.56" y="659.82" font-family='"Liberation Sans", sans-serif' font-size="7.89" class="s" textLength="8.48" lengthAdjust="spacingAndGlyphs">lo</text>
<text x="261.66" y="663.96" font-family='"Liberation Sans", sans-serif' font-size="13.85" class="s" textLength="37.77" lengthAdjust="spacingAndGlyphs">CD44</text>
<text x="298.91" y="659.82" font-family='"Liberation Sans", sans-serif' font-size="7.89" class="s" textLength="9.06" lengthAdjust="spacingAndGlyphs">lo</text>
<rect x="187.1" y="672.7" width="22.8" height="11" fill="url(#stripeL)" stroke="#000" stroke-width="2"/>
<text x="215.07" y="683.65" font-family='"Liberation Sans", sans-serif' font-size="15.27" class="s" textLength="39.01" lengthAdjust="spacingAndGlyphs">eGFP</text>
<text x="253.50" y="679.60" font-family='"Liberation Sans", sans-serif' font-size="8.00" class="s" textLength="8.88" lengthAdjust="spacingAndGlyphs">hi</text>
<text x="261.66" y="683.66" font-family='"Liberation Sans", sans-serif' font-size="13.85" class="s" textLength="37.77" lengthAdjust="spacingAndGlyphs">CD44</text>
<text x="298.85" y="679.60" font-family='"Liberation Sans", sans-serif' font-size="8.00" class="s" textLength="9.49" lengthAdjust="spacingAndGlyphs">hi</text>
<rect x="187.1" y="693.1" width="22.8" height="11" fill="url(#hatch)" stroke="#000" stroke-width="2"/>
<text x="215.07" y="704.05" font-family='"Liberation Sans", sans-serif' font-size="15.27" class="s" textLength="39.01" lengthAdjust="spacingAndGlyphs">eGFP</text>
<text x="253.56" y="699.92" font-family='"Liberation Sans", sans-serif' font-size="7.89" class="s" textLength="8.48" lengthAdjust="spacingAndGlyphs">lo</text>
<text x="261.66" y="704.06" font-family='"Liberation Sans", sans-serif' font-size="13.85" class="s" textLength="37.77" lengthAdjust="spacingAndGlyphs">CD44</text>
<text x="298.85" y="700.00" font-family='"Liberation Sans", sans-serif' font-size="8.00" class="s" textLength="9.49" lengthAdjust="spacingAndGlyphs">hi</text>
</svg></body></html>
